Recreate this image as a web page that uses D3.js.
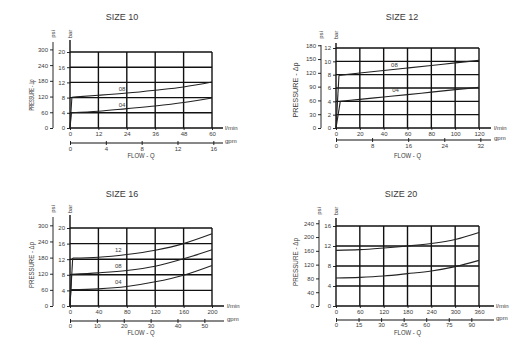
<!DOCTYPE html>
<html><head><meta charset="utf-8">
<script src="https://cdn.jsdelivr.net/npm/d3@7/dist/d3.min.js"></script>
<style>
body{margin:0;background:#fff}
svg{display:block}
text{font-family:"Liberation Sans Narrow","Liberation Sans",Arial,sans-serif;fill:#3a3a3a}
</style>
</head><body>
<svg id="chart" width="524" height="352"></svg>
<script>
const BAR_TO_PSI = 14.5038, LPM_PER_GPM = 3.785;

// ---------- SIZE 10 ----------
const size10Title = "SIZE 10";
const size10FlowTicks = [0, 12, 24, 36, 48, 60];
const size10GpmTicks = [0, 4, 8, 12, 16];
const size10BarTicks = [0, 4, 8, 12, 16, 20];
const size10PsiTicks = [0, 60, 120, 180, 240, 300];
const size10Flow08 = [0, 0.8, 12, 24, 36, 48, 60];
const size10Bar08  = [0, 8.1, 8.6, 9.2, 9.95, 10.8, 12.1];
const size10Flow04 = [0, 0.6, 12, 24, 36, 48, 60];
const size10Bar04  = [0, 4.0, 4.4, 5.1, 5.8, 6.7, 7.9];
const size10CurveNames = ["08", "04"];
const size10LabelFlow = [22, 22];
const size10LabelBar = [10.2, 6.1];

// ---------- SIZE 12 ----------
const size12Title = "SIZE 12";
const size12FlowTicks = [0, 20, 40, 60, 80, 100, 120];
const size12GpmTicks = [0, 8, 16, 24, 32];
const size12BarTicks = [0, 2, 4, 6, 8, 10, 12];
const size12PsiTicks = [0, 30, 60, 90, 120, 150, 180];
const size12Flow08 = [0, 2.5, 20, 40, 60, 80, 100, 120];
const size12Bar08  = [0, 7.9, 8.24, 8.62, 9.0, 9.38, 9.77, 10.15];
const size12Flow04 = [0, 3.6, 20, 40, 60, 80, 100, 120];
const size12Bar04  = [0, 4.0, 4.3, 4.65, 5.0, 5.38, 5.75, 6.1];
const size12CurveNames = ["08", "04"];
const size12LabelFlow = [49, 50];
const size12LabelBar = [9.45, 5.65];

// ---------- SIZE 16 ----------
const size16Title = "SIZE 16";
const size16FlowTicks = [0, 40, 80, 120, 160, 200];
const size16GpmTicks = [0, 10, 20, 30, 40, 50];
const size16BarTicks = [0, 4, 8, 12, 16, 20];
const size16PsiTicks = [0, 60, 120, 180, 240, 300];
const size16Flow12 = [0, 3.8, 40, 80, 120, 160, 200];
const size16Bar12  = [0, 12.3, 12.5, 13.2, 14.3, 16.0, 18.5];
const size16Flow08 = [0, 2, 40, 80, 120, 160, 200];
const size16Bar08  = [0, 8.1, 8.5, 9.1, 10.2, 12.1, 14.4];
const size16Flow04 = [0, 1, 40, 80, 120, 160, 200];
const size16Bar04  = [0, 4.2, 4.4, 5.0, 6.2, 7.9, 10.4];
const size16CurveNames = ["12", "08", "04"];
const size16LabelFlow = [68, 68, 68];
const size16LabelBar = [14.3, 10.3, 6.1];

// ---------- SIZE 20 ----------
const size20Title = "SIZE 20";
const size20FlowTicks = [0, 60, 120, 180, 240, 300, 360];
const size20GpmTicks = [0, 15, 30, 45, 60, 75, 90];
const size20BarTicks = [0, 4, 8, 12, 16];
const size20PsiTicks = [0, 40, 80, 120, 160, 200, 240];
const size20FlowHi = [0, 60, 120, 180, 240, 300, 360];
const size20BarHi  = [11.13, 11.27, 11.6, 12.0, 12.5, 13.3, 14.7];
const size20FlowLo = [0, 60, 120, 180, 240, 300, 360];
const size20BarLo  = [5.6, 5.73, 6.0, 6.47, 7.0, 7.87, 9.13];

const panels = [
  {title: size10Title, flowTicks: size10FlowTicks, gpmTicks: size10GpmTicks, barTicks: size10BarTicks, psiTicks: size10PsiTicks,
   curves: [[size10Flow08, size10Bar08], [size10Flow04, size10Bar04]], names: size10CurveNames, lf: size10LabelFlow, lb: size10LabelBar},
  {title: size12Title, flowTicks: size12FlowTicks, gpmTicks: size12GpmTicks, barTicks: size12BarTicks, psiTicks: size12PsiTicks,
   curves: [[size12Flow08, size12Bar08], [size12Flow04, size12Bar04]], names: size12CurveNames, lf: size12LabelFlow, lb: size12LabelBar},
  {title: size16Title, flowTicks: size16FlowTicks, gpmTicks: size16GpmTicks, barTicks: size16BarTicks, psiTicks: size16PsiTicks,
   curves: [[size16Flow12, size16Bar12], [size16Flow08, size16Bar08], [size16Flow04, size16Bar04]], names: size16CurveNames, lf: size16LabelFlow, lb: size16LabelBar},
  {title: size20Title, flowTicks: size20FlowTicks, gpmTicks: size20GpmTicks, barTicks: size20BarTicks, psiTicks: size20PsiTicks,
   curves: [[size20FlowHi, size20BarHi], [size20FlowLo, size20BarLo]], names: [], lf: [], lb: []}
];

const layouts = [
  {x0:70, x1:212, yt:52, yb:128, psiX:53, unitY:34, axisTop:40, flowEnd:223, unitX:225, gpmY:143, gpmLblY:149, flowLblY:156, titleX:122, titleY:17, presX:32, presY:95, presLen:31},
  {x0:336, x1:479, yt:48, yb:128, psiX:321, unitY:35, axisTop:43, flowEnd:491, unitX:494, gpmY:140, gpmLblY:146, flowLblY:156, titleX:402, titleY:17, presX:296, presY:90, presLen:55},
  {x0:70, x1:212, yt:228, yb:306, psiX:53, unitY:209, axisTop:215, flowEnd:224, unitX:227, gpmY:321, gpmLblY:326, flowLblY:333, titleX:122, titleY:194, presX:32, presY:265, presLen:46},
  {x0:336, x1:479, yt:226, yb:306, psiX:319, unitY:211, axisTop:218, flowEnd:494, unitX:496, gpmY:320, gpmLblY:324.5, flowLblY:333, titleX:401, titleY:194, presX:296, presY:262, presLen:48}
];

const svg = d3.select("#chart");
const INK = "#111";

function styleAxis(a){
  a.select(".domain").remove();
  a.selectAll("line").attr("stroke", INK).attr("stroke-width", 0.9);
  a.selectAll("text").attr("font-size", 6).attr("fill", "#3a3a3a")
   .attr("font-family", '"Liberation Sans Narrow","Liberation Sans",Arial,sans-serif');
}

function drawPanel(p, L){
  const g = svg.append("g");
  const flowMax = d3.max(p.flowTicks), barMax = d3.max(p.barTicks);
  const x = d3.scaleLinear().domain([0, flowMax]).range([L.x0, L.x1]);
  const y = d3.scaleLinear().domain([0, barMax]).range([L.yb, L.yt]);
  const xg = d3.scaleLinear().domain([0, flowMax / LPM_PER_GPM]).range([L.x0, L.x1]);
  const yp = d3.scaleLinear().domain([0, barMax * BAR_TO_PSI]).range([L.yb, L.yt]);

  // grid
  g.selectAll(".vg").data(p.flowTicks.filter(t => t > 0)).join("line")
    .attr("x1", d => x(d)).attr("x2", d => x(d)).attr("y1", L.yb).attr("y2", L.yt)
    .attr("stroke", INK).attr("stroke-width", 1.4);
  g.selectAll(".hg").data(p.barTicks.filter(t => t > 0)).join("line")
    .attr("x1", L.x0).attr("x2", L.x1).attr("y1", d => y(d)).attr("y2", d => y(d))
    .attr("stroke", INK).attr("stroke-width", 1.4);

  // bar axis (left border, extended)
  g.append("line").attr("x1", L.x0).attr("x2", L.x0).attr("y1", L.yb).attr("y2", L.axisTop)
    .attr("stroke", INK).attr("stroke-width", 1.4);
  const ba = g.append("g").attr("transform", `translate(${L.x0},0)`)
    .call(d3.axisLeft(y).tickValues(p.barTicks).tickSize(3).tickPadding(2));
  styleAxis(ba);
  g.append("text").attr("transform", `translate(${L.x0 + 2},${L.unitY}) rotate(-90)`)
    .attr("text-anchor", "middle").attr("font-size", 6).text("bar");

  // psi axis
  g.append("line").attr("x1", L.psiX).attr("x2", L.psiX).attr("y1", L.yb).attr("y2", L.axisTop + 2)
    .attr("stroke", INK).attr("stroke-width", 0.9);
  const pa = g.append("g").attr("transform", `translate(${L.psiX},0)`)
    .call(d3.axisLeft(yp).tickValues(p.psiTicks).tickSize(3).tickPadding(2));
  styleAxis(pa);
  g.append("text").attr("transform", `translate(${L.psiX + 2},${L.unitY}) rotate(-90)`)
    .attr("text-anchor", "middle").attr("font-size", 6).text("psi");

  // flow l/min axis
  g.append("line").attr("x1", L.x0).attr("x2", L.flowEnd).attr("y1", L.yb).attr("y2", L.yb)
    .attr("stroke", INK).attr("stroke-width", 1.4);
  const fa = g.append("g").attr("transform", `translate(0,${L.yb})`)
    .call(d3.axisBottom(x).tickValues(p.flowTicks).tickSize(2).tickPadding(2));
  styleAxis(fa);
  fa.selectAll("text").attr("y", 5.5).attr("dy", "0.35em");
  g.append("text").attr("x", L.unitX).attr("y", L.yb).attr("dy", "0.35em")
    .attr("font-size", 6).text("l/min");

  // gpm axis
  g.append("line").attr("x1", L.x0).attr("x2", L.flowEnd).attr("y1", L.gpmY).attr("y2", L.gpmY)
    .attr("stroke", INK).attr("stroke-width", 1);
  const ga = g.append("g").attr("transform", `translate(0,${L.gpmY})`)
    .call(d3.axisBottom(xg).tickValues(p.gpmTicks).tickSize(2).tickPadding(2));
  styleAxis(ga);
  ga.selectAll("line").attr("y1", -2);
  ga.selectAll("text").attr("y", L.gpmLblY - L.gpmY).attr("dy", "0.35em");
  g.append("text").attr("x", L.unitX).attr("y", L.gpmY - 2).attr("dy", "0.35em")
    .attr("font-size", 6).text("gpm");

  g.append("text").attr("x", (L.x0 + L.x1) / 2).attr("y", L.flowLblY).attr("dy", "0.35em")
    .attr("text-anchor", "middle").attr("font-size", 6.5)
    .attr("textLength", 27).attr("lengthAdjust", "spacingAndGlyphs").text("FLOW - Q");

  // pressure label
  g.append("text").attr("transform", `translate(${L.presX},${L.presY}) rotate(-90)`)
    .attr("text-anchor", "middle").attr("dy", "0.35em").attr("font-size", 6.5)
    .attr("textLength", L.presLen).attr("lengthAdjust", "spacingAndGlyphs").text("PRESSURE - Δp");

  // title
  g.append("text").attr("x", L.titleX).attr("y", L.titleY).attr("dy", "0.35em")
    .attr("text-anchor", "middle").attr("font-size", 9).attr("fill", "#000")
    .attr("font-family", '"Liberation Sans",Arial,sans-serif').text(p.title);

  // curves
  const line = d3.line().x(d => x(d[0])).y(d => y(d[1])).curve(d3.curveMonotoneX);
  const straight = d3.line().x(d => x(d[0])).y(d => y(d[1]));
  p.curves.forEach(([fx, by]) => {
    const pts = fx.map((f, i) => [f, by[i]]);
    if (pts[0][1] === 0) {
      g.append("path").attr("d", straight(pts.slice(0, 2))).attr("fill", "none")
        .attr("stroke", "#222").attr("stroke-width", 1.1);
      g.append("path").attr("d", line(pts.slice(1))).attr("fill", "none")
        .attr("stroke", "#222").attr("stroke-width", 1.1);
    } else {
      g.append("path").attr("d", line(pts)).attr("fill", "none")
        .attr("stroke", "#222").attr("stroke-width", 1.1);
    }
  });
  p.names.forEach((n, i) => {
    g.append("text").attr("x", x(p.lf[i])).attr("y", y(p.lb[i])).attr("dy", "0.35em")
      .attr("text-anchor", "middle").attr("font-size", 6).text(n);
  });
}

panels.forEach((p, i) => drawPanel(p, layouts[i]));
</script>
</body></html>
